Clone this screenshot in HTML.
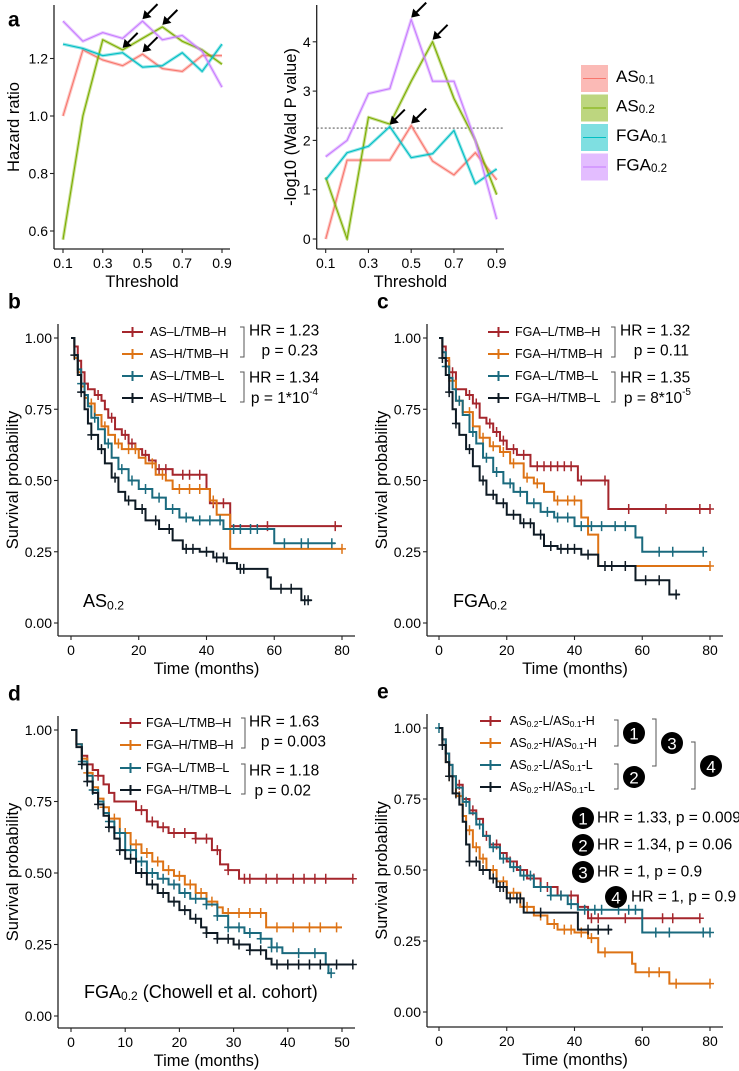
<!DOCTYPE html>
<html><head><meta charset="utf-8">
<style>
body{margin:0;background:#fff;}
svg{display:block;font-family:"Liberation Sans",Arial,sans-serif;}
</style></head>
<body>
<svg id="fig" width="739" height="1071" viewBox="0 0 739 1071" xmlns="http://www.w3.org/2000/svg"></svg>
<script>
// ---------- Panel a data ----------
const thresholds=[0.1,0.2,0.3,0.4,0.5,0.6,0.7,0.8,0.9];
const hrAS01=[1.0,1.23,1.195,1.175,1.215,1.165,1.155,1.21,1.21];
const hrAS02=[0.57,1.0,1.265,1.23,1.27,1.31,1.26,1.23,1.18];
const hrFGA01=[1.25,1.235,1.21,1.22,1.17,1.175,1.22,1.155,1.25];
const hrFGA02=[1.33,1.26,1.29,1.27,1.33,1.265,1.28,1.225,1.10];
const pAS01=[0,1.6,1.6,1.6,2.3,1.58,1.3,1.75,1.2];
const pAS02=[1.25,0,2.47,2.33,3.2,4.0,2.85,2.0,0.9];
const pFGA01=[1.2,1.75,1.88,2.28,1.65,1.73,2.2,1.12,1.42];
const pFGA02=[1.67,2.0,2.95,3.05,4.45,3.2,3.2,2.0,0.4];
const hrTicks=[0.6,0.8,1.0,1.2];
const pTicks=[0,1,2,3,4];
const xTicksA=[0.1,0.3,0.5,0.7,0.9];
const pThreshold=2.25;
const seriesNames=['AS0.1','AS0.2','FGA0.1','FGA0.2'];

// ---------- Panel b data (AS0.2) ----------
const bRedT=[0,1,2,3,4,5,7,9,10,11,13,15,17,19,21,23,25,30,40,41,47,80];
const bRedS=[1,0.97,0.92,0.88,0.84,0.82,0.80,0.78,0.75,0.72,0.68,0.66,0.63,0.61,0.59,0.57,0.54,0.52,0.47,0.42,0.34,0.34];
const bRedC=[4,8,12,16,18,22,26,28,33,35,38,42,45,58,78];
const bOrgT=[0,1,2,3,4,5,7,9,11,13,15,20,22,25,28,30,41,43,47,80];
const bOrgS=[1,0.93,0.88,0.83,0.79,0.77,0.73,0.69,0.66,0.63,0.61,0.58,0.56,0.52,0.50,0.47,0.43,0.38,0.26,0.26];
const bOrgC=[6,10,14,17,19,24,27,32,35,38,42,80];
const bTealT=[0,1,2,3,4,5,6,8,10,12,14,17,20,24,28,32,36,45,60,78];
const bTealS=[1,0.94,0.89,0.84,0.80,0.76,0.72,0.68,0.63,0.58,0.54,0.50,0.47,0.44,0.40,0.37,0.36,0.33,0.28,0.28];
const bTealC=[3,7,11,15,18,22,26,30,34,38,41,44,48,50,53,55,63,68,70,77];
const bBlkT=[0,1,2,3,4,5,6,8,10,12,14,16,19,22,26,30,33,38,42,46,49,58,59,68,71];
const bBlkS=[1,0.94,0.87,0.81,0.75,0.70,0.66,0.61,0.56,0.51,0.46,0.43,0.40,0.36,0.33,0.29,0.26,0.25,0.23,0.21,0.19,0.16,0.12,0.08,0.08];
const bBlkC=[1,3,6,9,13,17,21,25,29,34,36,40,43,45,50,51,62,65,69,70];

// ---------- Panel c data (FGA0.2) ----------
const cRedT=[0,1,2,3,5,8,10,12,14,16,18,20,23,27,41,50,80];
const cRedS=[1,0.97,0.92,0.88,0.82,0.80,0.77,0.72,0.70,0.67,0.64,0.61,0.59,0.55,0.50,0.40,0.40];
const cRedC=[4,9,11,15,17,19,22,25,29,31,33,35,37,39,42,49,56,67,77,80];
const cOrgT=[0,1,3,5,7,10,12,15,18,21,25,28,31,34,42,44,47,80];
const cOrgS=[1,0.93,0.85,0.78,0.74,0.69,0.65,0.62,0.60,0.56,0.51,0.49,0.46,0.43,0.37,0.31,0.20,0.20];
const cOrgC=[6,9,13,16,19,22,26,29,35,38,40,80];
const cTealT=[0,1,2,3,4,5,7,9,11,13,16,19,22,26,30,34,40,58,60,78];
const cTealS=[1,0.95,0.90,0.86,0.82,0.78,0.73,0.67,0.63,0.58,0.53,0.49,0.46,0.42,0.39,0.37,0.34,0.30,0.25,0.25];
const cTealC=[2,6,10,14,17,21,24,28,32,35,38,42,45,48,52,55,65,69,78];
const cBlkT=[0,1,2,3,4,5,6,8,10,12,14,17,20,24,28,31,35,42,47,58,68,71];
const cBlkS=[1,0.93,0.87,0.81,0.75,0.70,0.66,0.61,0.55,0.50,0.45,0.42,0.38,0.35,0.31,0.27,0.26,0.24,0.20,0.15,0.10,0.10];
const cBlkC=[1,3,5,9,13,16,19,22,25,27,30,33,36,38,40,44,49,51,55,61,65,70];

// ---------- Panel d data (Chowell cohort) ----------
const dRedT=[0,1,2,3,4,5,6,7,8,12,14,16,18,23,26,27.5,29,31,52];
const dRedS=[1,0.95,0.91,0.88,0.86,0.84,0.81,0.78,0.75,0.72,0.68,0.66,0.64,0.62,0.58,0.53,0.51,0.48,0.48];
const dRedC=[3,5,13,15,17,19,21,23,25,27,29,32,33,36,38,41,43,45,47,52];
const dOrgT=[0,1,2,3,4,5,6,7,9,11,13,15,17,19,21,23,25,27,28,36,50];
const dOrgS=[1,0.95,0.90,0.85,0.80,0.76,0.73,0.69,0.64,0.60,0.57,0.54,0.51,0.49,0.46,0.43,0.40,0.38,0.36,0.31,0.31];
const dOrgC=[3,6,8,10,12,14,16,18,20,22,24,26,29,31,33,35,38,41,44,46,49];
const dTealT=[0,1,2,3,4,5,6,7,8,10,12,14,16,18,20,22,25,27,29,32,35,37,39,47,47.5,48];
const dTealS=[1,0.95,0.89,0.84,0.79,0.75,0.71,0.68,0.64,0.58,0.54,0.50,0.48,0.46,0.43,0.41,0.39,0.35,0.31,0.29,0.27,0.24,0.22,0.18,0.15,0.15];
const dTealC=[2,4,7,9,11,13,15,17,19,21,23,25,27,29,31,33,35,37,38,42,45,48];
const dBlkT=[0,1,2,3,4,5,6,7,8,9,10,12,14,16,18,20,22,24,25,27,30,33,36,37,52];
const dBlkS=[1,0.94,0.88,0.82,0.78,0.74,0.70,0.66,0.62,0.58,0.55,0.50,0.46,0.43,0.40,0.37,0.34,0.31,0.29,0.27,0.25,0.23,0.20,0.18,0.18];
const dBlkC=[2,3,5,7,9,11,13,15,17,19,21,23,25,27,29,31,33,35,38,40,42,44,46,49,52];

// ---------- Panel e data ----------
const eRedT=[0,1,2,3,4,5,7,9,11,13,15,18,20,23,26,30,35,41,44,77];
const eRedS=[1,0.96,0.91,0.87,0.83,0.80,0.75,0.71,0.68,0.62,0.59,0.56,0.53,0.50,0.47,0.44,0.41,0.37,0.33,0.33];
const eRedC=[6,10,14,17,21,24,28,32,36,39,45,47,55,66,69,77];
const eOrgT=[0,1,2,3,5,7,8,10,12,14,17,20,24,28,32,35,40,44,47,57,58,68,80];
const eOrgS=[1,0.94,0.88,0.83,0.76,0.69,0.64,0.58,0.54,0.50,0.46,0.42,0.37,0.34,0.31,0.29,0.28,0.26,0.21,0.17,0.14,0.10,0.10];
const eOrgC=[3,6,9,11,13,16,19,22,26,30,34,37,39,42,45,49,62,65,70,80];
const eTealT=[0,1,2,3,4,5,7,9,11,13,15,18,21,24,28,33,38,41,60,80];
const eTealS=[1,0.96,0.91,0.87,0.83,0.79,0.74,0.70,0.66,0.62,0.58,0.54,0.51,0.48,0.44,0.41,0.38,0.36,0.28,0.28];
const eTealC=[0,4,8,12,16,19,22,25,27,30,33,36,39,43,46,48,53,56,58,64,68,78,80];
const eBlkT=[0,1,2,3,4,6,7,8,9,12,15,17,20,25,41,51];
const eBlkS=[1,0.94,0.88,0.83,0.77,0.73,0.67,0.59,0.53,0.50,0.47,0.44,0.40,0.35,0.29,0.29];
const eBlkC=[1,3,5,9,11,13,16,18,19,21,23,24,30,44,47,50];

// ---------- helpers ----------
const NS='http://www.w3.org/2000/svg';
const svg=document.getElementById('fig');
function mk(tag,attrs,parent){const e=document.createElementNS(NS,tag);for(const k in attrs)e.setAttribute(k,attrs[k]);(parent||svg).appendChild(e);return e;}
function txt(x,y,s,size,anchor,parent,extra){const t=mk('text',Object.assign({x:x,y:y,'font-size':size,'text-anchor':anchor||'start','dominant-baseline':'central',fill:'#000'},extra||{}),parent);t.textContent=s;return t;}
function subText(x,y,base,sub,size,parent,anchor){const t=mk('text',{x:x,y:y,'font-size':size,'dominant-baseline':'central','text-anchor':anchor||'start',fill:'#000'},parent);const a=mk('tspan',{},t);a.textContent=base;const b=mk('tspan',{'font-size':size*0.68,dy:size*0.25},t);b.textContent=sub;return t;}

function axes(g,x0,yTop,yBot,xRight,yTicks,yFmt,yScale,xTicks,xFmt,xScale,xTitle,yTitle,yTitleX){
  mk('line',{x1:x0,y1:yTop,x2:x0,y2:yBot,stroke:'#222','stroke-width':1.3},g);
  mk('line',{x1:x0,y1:yBot,x2:xRight,y2:yBot,stroke:'#222','stroke-width':1.3},g);
  yTicks.forEach(v=>{const y=yScale(v);mk('line',{x1:x0-4,y1:y,x2:x0,y2:y,stroke:'#222','stroke-width':1.1},g);txt(x0-6,y,yFmt(v),14,'end',g);});
  xTicks.forEach(v=>{const x=xScale(v);mk('line',{x1:x,y1:yBot,x2:x,y2:yBot+4,stroke:'#222','stroke-width':1.1},g);txt(x,yBot+14,xFmt(v),14,'middle',g);});
  const xt=txt((x0+xRight)/2,yBot+33,xTitle,16.5,'middle',g);
  
  
  const yc=(yTop+yBot)/2;
  const yt=txt(yTitleX,yc,yTitle,16.5,'middle',g,{transform:`rotate(-90 ${yTitleX} ${yc})`});
  
  
}

// ---------- Panel a ----------
const colA=['#F8766D','#7CAE00','#00BFC4','#C77CFF'];
function lineSeries(g,xs,ys,xS,yS,col,name){
  const pts=xs.map((x,i)=>xS(x)+','+yS(ys[i])).join(' ');
  const r=mk('polyline',{points:pts,fill:'none',stroke:col,'stroke-opacity':0.4,'stroke-width':3.2,'stroke-linejoin':'round'},g);
  
  
  const l=mk('polyline',{points:pts,fill:'none',stroke:col,'stroke-width':1.1},g);
  
  
}
function arrow(g,tx,ty){
  mk('line',{x1:tx+5,y1:ty-5,x2:tx+15,y2:ty-15,stroke:'#000','stroke-width':2},g);
  const a=mk('polygon',{points:`${tx},${ty} ${tx+9},${ty-2} ${tx+2},${ty-9}`,fill:'#000'},g);
  
  
}
{
  const g=mk('g',{});
  
  
  const xS=v=>63+(v-0.1)/0.8*159;
  const yS=v=>116-(v-1.0)/0.2*57.5;
  axes(g,54,5,249,230,hrTicks,v=>v.toFixed(1),yS,xTicksA,v=>v.toFixed(1),xS,'Threshold','Hazard ratio',14);
  const sets=[hrAS01,hrAS02,hrFGA01,hrFGA02];
  sets.forEach((s,i)=>lineSeries(g,thresholds,s,xS,yS,colA[i],'hr-'+seriesNames[i]));
  arrow(g,xS(0.4),yS(hrAS02[3])-2);
  arrow(g,xS(0.5),yS(hrFGA02[4])-2);
  arrow(g,xS(0.6),yS(hrAS02[5])-2);
  arrow(g,xS(0.5),yS(hrAS01[4])-2);
  const lab=txt(8,20,'a',21,'start',g,{'font-weight':'bold'});
  
  
}
{
  const g=mk('g',{});
  
  
  const xS=v=>325.7+(v-0.1)/0.8*171;
  const yS=v=>239-v*49.3;
  axes(g,316.7,5,249,504,pTicks,v=>String(v),yS,xTicksA,v=>v.toFixed(1),xS,'Threshold','-log10 (Wald P value)',291);
  const d=mk('line',{x1:316.7,y1:yS(pThreshold),x2:504,y2:yS(pThreshold),stroke:'#333','stroke-width':0.9,'stroke-dasharray':'2,2'},g);
  
  
  const sets=[pAS01,pAS02,pFGA01,pFGA02];
  sets.forEach((s,i)=>lineSeries(g,thresholds,s,xS,yS,colA[i],'p-'+seriesNames[i]));
  arrow(g,xS(0.5),yS(pFGA02[4])-2);
  arrow(g,xS(0.6),yS(pAS02[5])-2);
  arrow(g,xS(0.4),yS(pFGA01[3])-2);
  arrow(g,xS(0.5),yS(pAS01[4])-2);
  // legend
  const lg=mk('g',{},g);
  
  
  const labs=[['AS','0.1'],['AS','0.2'],['FGA','0.1'],['FGA','0.2']];
  labs.forEach((l,i)=>{
    const y=65+i*29.5;
    const e=mk('g',{},lg);
    
    
    mk('rect',{x:581,y:y,width:27,height:27,fill:colA[i],'fill-opacity':0.5},e);
    mk('line',{x1:583,y1:y+13.5,x2:606,y2:y+13.5,stroke:colA[i],'stroke-width':1},e);
    subText(616,y+11,l[0],l[1],17,e);
  });
}

// ---------- KM panels ----------
const kmCol=['#A5262C','#DD7315','#1A6A7E','#0E1A24'];
function kmCurve(g,T,S,C,xS,yS,col,name){
  let d=`M${xS(T[0])},${yS(S[0])}`;
  for(let i=1;i<T.length;i++){d+=` H${xS(T[i])} V${yS(S[i])}`;}
  const p=mk('path',{d:d,fill:'none',stroke:col,'stroke-width':2},g);
  
  
  C.forEach(t=>{
    let s=S[0];for(let i=0;i<T.length;i++){if(T[i]<=t)s=S[i];}
    const x=xS(t),y=yS(s);
    const m=mk('path',{d:`M${x-4},${y} H${x+4} M${x},${y-5} V${y+5}`,stroke:col,'stroke-width':1.5},g);
    
    
  });
}
function legendRow(g,x,y,col){mk('path',{d:`M${x},${y} H${x+21} M${x+10.5},${y-5} V${y+5}`,stroke:col,'stroke-width':2},g);}
function bracket(g,x,y1,y2){mk('path',{d:`M${x-4},${y1} H${x} V${y2} H${x-4}`,fill:'none',stroke:'#555','stroke-width':1},g);}
const survTicks=[0,0.25,0.5,0.75,1];

function kmPanel(cfg){
  const g=mk('g',{});
  
  
  const xS=v=>cfg.x0+v/cfg.xmax*(cfg.x1-cfg.x0);
  const yS=v=>cfg.y0-v*(cfg.y0-cfg.y1);
  axes(g,cfg.ax,cfg.y1-14,cfg.yb,cfg.axr,survTicks,v=>v.toFixed(2),yS,cfg.xt,v=>String(v),xS,'Time (months)','Survival probability',cfg.ax-45);
  cfg.curves.forEach((c,i)=>kmCurve(g,c[0],c[1],c[2],xS,yS,kmCol[i],cfg.name+'-'+cfg.keys[i]));
  const lab=txt(cfg.ax-50,cfg.y1-36,cfg.label,21,'start',g,{'font-weight':'bold'});
  
  
  const lg=mk('g',{},g);
  
  
  return {g,lg,xS,yS};
}

// Panel b
{
  const P=kmPanel({name:'panel-b',label:'b',ax:58,axr:355,x0:71,x1:342,xmax:80,y0:623,y1:338,yb:636,xt:[0,20,40,60,80],
    keys:['as-l-tmb-h','as-h-tmb-h','as-l-tmb-l','as-h-tmb-l'],
    curves:[[bRedT,bRedS,bRedC],[bOrgT,bOrgS,bOrgC],[bTealT,bTealS,bTealC],[bBlkT,bBlkS,bBlkC]]});
  const names=['AS\u2013L/TMB\u2013H','AS\u2013H/TMB\u2013H','AS\u2013L/TMB\u2013L','AS\u2013H/TMB\u2013L'];
  [332,354,376,398].forEach((y,i)=>{legendRow(P.lg,122,y,kmCol[i]);const t=txt(150,y,names[i],12.5,'start',P.lg);
    
    });
  bracket(P.lg,244,327,357);bracket(P.lg,244,372,402);
  txt(249,331,'HR = 1.23',15.5,'start',P.lg);txt(318,351,'p = 0.23',15.5,'end',P.lg);
  txt(249,378,'HR = 1.34',15.5,'start',P.lg);
  const pt=mk('text',{x:318,y:398,'font-size':15.5,'text-anchor':'end','dominant-baseline':'central'},P.lg);
  const s1=mk('tspan',{},pt);s1.textContent='p = 1*10';const s2=mk('tspan',{'font-size':10,dy:-6},pt);s2.textContent='-4';
  subText(83,601,'AS','0.2',18,P.g);
}
// Panel c
{
  const P=kmPanel({name:'panel-c',label:'c',ax:427,axr:723,x0:439,x1:710,xmax:80,y0:623,y1:338,yb:636,xt:[0,20,40,60,80],
    keys:['fga-l-tmb-h','fga-h-tmb-h','fga-l-tmb-l','fga-h-tmb-l'],
    curves:[[cRedT,cRedS,cRedC],[cOrgT,cOrgS,cOrgC],[cTealT,cTealS,cTealC],[cBlkT,cBlkS,cBlkC]]});
  const names=['FGA\u2013L/TMB\u2013H','FGA\u2013H/TMB\u2013H','FGA\u2013L/TMB\u2013L','FGA\u2013H/TMB\u2013L'];
  [332,354,376,398].forEach((y,i)=>{legendRow(P.lg,488,y,kmCol[i]);const t=txt(515,y,names[i],12.5,'start',P.lg);
    
    });
  bracket(P.lg,615,327,357);bracket(P.lg,615,372,402);
  txt(620,331,'HR = 1.32',15.5,'start',P.lg);txt(689,351,'p = 0.11',15.5,'end',P.lg);
  txt(620,378,'HR = 1.35',15.5,'start',P.lg);
  const pt=mk('text',{x:691,y:398,'font-size':15.5,'text-anchor':'end','dominant-baseline':'central'},P.lg);
  const s1=mk('tspan',{},pt);s1.textContent='p = 8*10';const s2=mk('tspan',{'font-size':10,dy:-6},pt);s2.textContent='-5';
  subText(453,601,'FGA','0.2',18,P.g);
}
// Panel d
{
  const P=kmPanel({name:'panel-d',label:'d',ax:58,axr:355,x0:71,x1:342,xmax:50,y0:1016,y1:730,yb:1028,xt:[0,10,20,30,40,50],
    keys:['fga-l-tmb-h','fga-h-tmb-h','fga-l-tmb-l','fga-h-tmb-l'],
    curves:[[dRedT,dRedS,dRedC],[dOrgT,dOrgS,dOrgC],[dTealT,dTealS,dTealC],[dBlkT,dBlkS,dBlkC]]});
  const names=['FGA\u2013L/TMB\u2013H','FGA\u2013H/TMB\u2013H','FGA\u2013L/TMB\u2013L','FGA\u2013H/TMB\u2013L'];
  [723,745,768,790].forEach((y,i)=>{legendRow(P.lg,120,y,kmCol[i]);const t=txt(146,y,names[i],12.5,'start',P.lg);
    
    });
  bracket(P.lg,245,718,748);bracket(P.lg,245,764,794);
  txt(249,722,'HR = 1.63',15.5,'start',P.lg);txt(326,742,'p = 0.003',15.5,'end',P.lg);
  txt(249,771,'HR = 1.18',15.5,'start',P.lg);txt(311,791,'p = 0.02',15.5,'end',P.lg);
  const t=mk('text',{x:84,y:992,'font-size':18,'dominant-baseline':'central'},P.g);
  const a=mk('tspan',{},t);a.textContent='FGA';const b=mk('tspan',{'font-size':12,dy:4},t);b.textContent='0.2';
  const c=mk('tspan',{dy:-4},t);c.textContent=' (Chowell et al. cohort)';
}
// Panel e
{
  const P=kmPanel({name:'panel-e',label:'e',ax:427,axr:723,x0:439,x1:710,xmax:80,y0:1012,y1:728,yb:1027,xt:[0,20,40,60,80],
    keys:['as02l-as01h','as02h-as01h','as02l-as01l','as02h-as01l'],
    curves:[[eRedT,eRedS,eRedC],[eOrgT,eOrgS,eOrgC],[eTealT,eTealS,eTealC],[eBlkT,eBlkS,eBlkC]]});
  const hl=[['-L/AS','-H'],['-H/AS','-H'],['-L/AS','-L'],['-H/AS','-L']];
  [721,743,765,787].forEach((y,i)=>{legendRow(P.lg,480,y,kmCol[i]);
    const t=mk('text',{x:510,y:y,'font-size':12.5,'dominant-baseline':'central'},P.lg);
    
    
    const a=mk('tspan',{},t);a.textContent='AS';const b=mk('tspan',{'font-size':8.5,dy:3},t);b.textContent='0.2';
    const c=mk('tspan',{dy:-3},t);c.textContent=hl[i][0];const d=mk('tspan',{'font-size':8.5,dy:3},t);d.textContent='0.1';
    const e=mk('tspan',{dy:-3},t);e.textContent=hl[i][1];});
  function circ(x,y,n){mk('circle',{cx:x,cy:y,r:11,fill:'#000'},P.lg);txt(x,y+1,n,17,'middle',P.lg,{fill:'#fff'});}
  bracket(P.lg,618,720,746);circ(634,733,'1');
  bracket(P.lg,618,764,789);circ(634,777,'2');
  bracket(P.lg,656,719,766);circ(672,743,'3');
  bracket(P.lg,695,742,789);circ(711,766,'4');
  circ(583,818,'1');txt(597,818,'HR = 1.33, p = 0.009',15.5,'start',P.lg);
  circ(583,845,'2');txt(597,845,'HR = 1.34, p = 0.06',15.5,'start',P.lg);
  circ(583,872,'3');txt(597,872,'HR = 1, p = 0.9',15.5,'start',P.lg);
  circ(616,897,'4');txt(631,897,'HR = 1, p = 0.9',15.5,'start',P.lg);
}
</script>
</body></html>
